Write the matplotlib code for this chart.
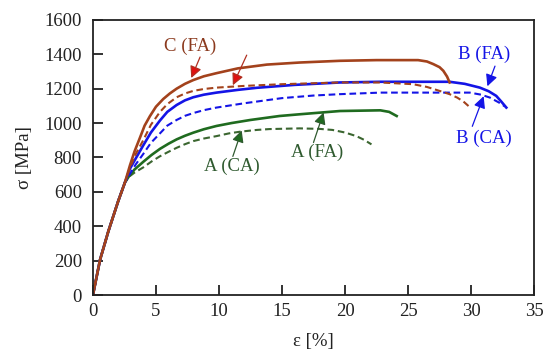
import numpy as np
import matplotlib
matplotlib.use('Agg')
import matplotlib.pyplot as plt

plt.rcParams['font.family'] = ['Liberation Serif', 'DejaVu Serif']

# strain [%] / stress [MPa]
trunk_x = [0, 0.56, 1.22, 2.0, 2.54]
trunk_y = [0, 204, 370, 545, 655]

c_fa_x = [2.94, 3.3, 3.73, 4.1, 4.52, 5.0, 5.58, 6.1, 6.64, 7.3, 7.96, 8.8, 9.8, 11.5, 13.8,
          16.4, 19.6, 22.5, 25.8, 26.5, 27.0, 27.5, 27.8, 28.1, 28.3]
c_fa_y = [755, 835, 915, 985, 1040, 1095, 1140, 1172, 1200, 1228, 1250, 1272, 1290, 1318, 1340,
          1352, 1362, 1366, 1366, 1358, 1343, 1325, 1304, 1270, 1236]

c_ca_x = [2.94, 3.4, 3.99, 4.6, 5.32, 5.9, 6.64, 7.3, 7.96, 8.8, 9.8, 12, 15, 19.6, 22.8,
          25.4, 26.5, 27.5, 28.3, 28.9, 29.4, 29.8]
c_ca_y = [740, 820, 900, 990, 1065, 1110, 1150, 1172, 1187, 1198, 1206, 1216, 1226, 1236, 1236,
          1226, 1210, 1187, 1168, 1148, 1125, 1099]

b_fa_x = [2.94, 3.4, 3.99, 4.6, 5.32, 5.9, 6.64, 7.3, 7.96, 8.8, 9.8, 11.5, 13, 16, 19.6,
          22.8, 28.3, 29.5, 30.7, 31.4, 32.0, 32.4, 32.8]
b_fa_y = [735, 795, 870, 945, 1015, 1065, 1105, 1132, 1150, 1165, 1177, 1193, 1205, 1222, 1236,
          1240, 1240, 1228, 1206, 1185, 1158, 1125, 1090]

b_ca_x = [2.94, 3.4, 3.99, 4.6, 5.32, 5.9, 6.64, 7.3, 7.96, 8.8, 9.8, 12, 15, 17.5, 19.6,
          22.8, 29.9, 30.8, 31.5, 32.2, 32.7]
b_ca_y = [705, 760, 820, 885, 940, 985, 1018, 1042, 1058, 1075, 1090, 1115, 1145, 1160, 1168,
          1177, 1177, 1165, 1148, 1120, 1096]

a_fa_x = [2.9, 3.3, 4.0, 4.66, 5.32, 6.0, 6.64, 7.3, 7.96, 8.8, 9.8, 11, 12.5, 14.8, 16.4,
          19.6, 22.8, 23.5, 24.1]
a_fa_y = [695, 730, 775, 815, 850, 880, 905, 926, 944, 964, 983, 1000, 1018, 1041, 1051,
          1070, 1074, 1065, 1041]

a_ca_x = [2.9, 3.3, 3.99, 4.66, 5.32, 6.0, 6.64, 7.3, 7.96, 8.8, 9.8, 10.8, 11.7, 13, 14,
          16.4, 18, 19.0, 20.0, 20.9, 21.5, 22.1]
a_ca_y = [690, 712, 742, 777, 807, 833, 856, 877, 895, 910, 924, 940, 950, 960, 965,
          969, 966, 960, 945, 924, 903, 876]

brown = '#a3421c'
blue = '#1414e6'
green = '#1f6b1f'
green_d = '#3b6630'

fig = plt.figure(figsize=(5.5, 3.55), dpi=100)
ax = fig.add_axes([0.169, 0.169, 0.802, 0.775])

def full(x, y):
    return trunk_x + x, trunk_y + y

dash = (0, (3.2, 1.8))
ax.plot(*full(a_ca_x, a_ca_y), color=green_d, lw=1.5, ls=dash)
ax.plot(*full(a_fa_x, a_fa_y), color=green, lw=1.9)
ax.plot(*full(b_ca_x, b_ca_y), color=blue, lw=1.5, ls=dash)
ax.plot(*full(b_fa_x, b_fa_y), color=blue, lw=1.9)
ax.plot(*full(c_ca_x, c_ca_y), color=brown, lw=1.5, ls=dash)
ax.plot(*full(c_fa_x, c_fa_y), color=brown, lw=1.9)

ax.set_xlim(0, 35)
ax.set_ylim(0, 1600)
ax.set_xticks(np.arange(0, 36, 5))
ax.set_yticks(np.arange(0, 1601, 200))
ax.tick_params(direction='in', length=7, width=1.3, labelsize=13.5, colors='#222222',
               top=False, right=False)
ax.tick_params(axis='x', pad=6)
ax.tick_params(axis='y', pad=8)
for s in ax.spines.values():
    s.set_linewidth(1.3)
    s.set_color('#222222')
ax.set_xlabel('ε [%]', fontsize=13.5, color='#222222', labelpad=9)
ax.set_ylabel('σ [MPa]', fontsize=13.5, color='#222222', labelpad=8)

def arrow(label, lxy, tail, tip, tcol, hcol, lcol):
    if label:
        ax.text(lxy[0], lxy[1], label, color=tcol, fontsize=13.5, ha='center', va='center')
    ax.annotate('', xy=tip, xytext=tail,
                arrowprops=dict(arrowstyle='-|>,head_length=0.7,head_width=0.35',
                                fc=hcol, ec=lcol, lw=0.9, shrinkA=0, shrinkB=0))

arrow('C (FA)', (7.7, 1448), (8.5, 1384), (7.8, 1262), '#8b3a1e', '#e01010', '#b03020')
arrow('', None, (12.2, 1395), (11.1, 1220), None, '#e01010', '#b03020')
arrow('B (FA)', (31.0, 1401), (31.9, 1331), (31.3, 1214), blue, blue, blue)
arrow('B (CA)', (31.0, 911), (30.1, 981), (31.0, 1156), blue, blue, blue)
arrow('A (FA)', (17.8, 829), (17.5, 887), (18.3, 1062), '#2f5a2f', green, '#2f5a2f')
arrow('A (CA)', (11.0, 747), (11.1, 806), (11.8, 957), '#2f5a2f', green, '#2f5a2f')

fig.savefig('out.png', dpi=100)
